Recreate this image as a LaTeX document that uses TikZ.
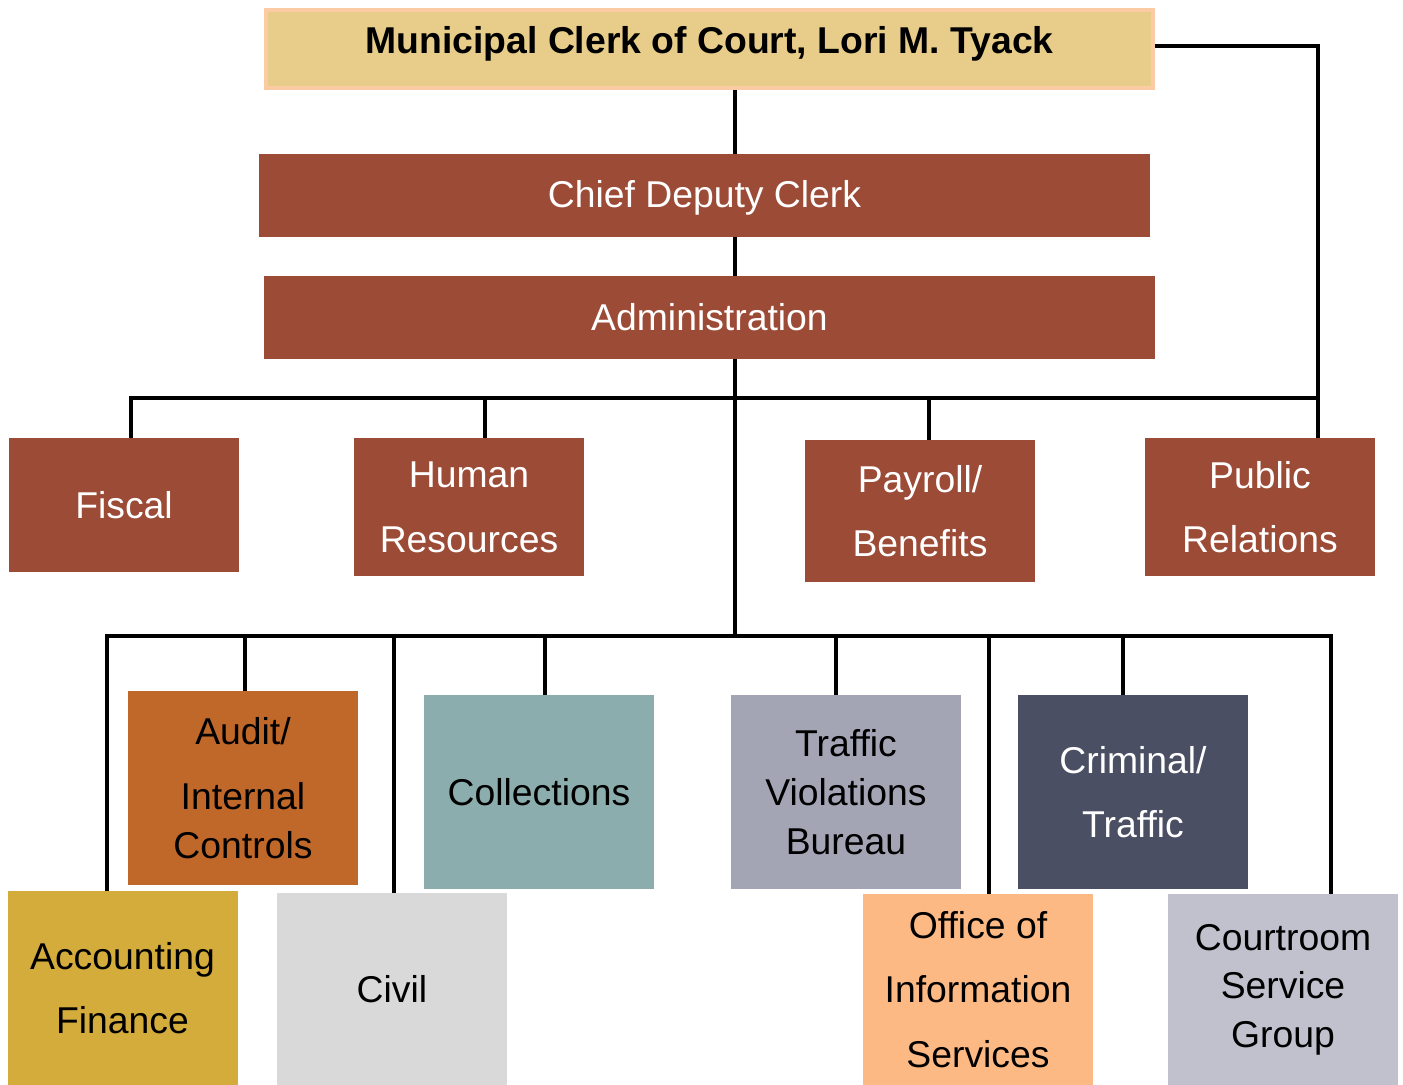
\documentclass[tikz,border=0pt]{standalone}
\usepackage{fontspec}
\setmainfont{Liberation Sans}
\usetikzlibrary{calc}

\definecolor{clerkfill}{HTML}{E7CD89}
\definecolor{clerkline}{HTML}{FBCBA4}
\definecolor{brick}{HTML}{9C4B37}
\definecolor{auditc}{HTML}{C0672A}
\definecolor{collc}{HTML}{8BADAD}
\definecolor{tvbc}{HTML}{A3A5B5}
\definecolor{crimc}{HTML}{4B4F63}
\definecolor{acctc}{HTML}{D4AC3C}
\definecolor{civilc}{HTML}{D9D9D9}
\definecolor{oisc}{HTML}{FDB984}
\definecolor{csgc}{HTML}{C0C1CD}

\tikzset{
  unit/.style={rectangle, inner sep=0pt, minimum width=172.5pt, align=center,
    font=\fontsize{28}{36.5}\selectfont},
  loose/.style={font=\fontsize{28}{48.5}\selectfont},
  wide/.style={rectangle, inner sep=0pt, minimum width=668.25pt, minimum height=62.25pt,
    fill=brick, text=white, font=\fontsize{28}{34}\selectfont},
  link/.style={line width=3pt, black}
}

\begin{document}
\begin{tikzpicture}[x=0.75pt, y=-0.75pt]
\useasboundingbox (0,0) rectangle (1403,1085);

% Top of the chart
\node[rectangle, inner sep=0pt, minimum width=665.25pt, minimum height=58.5pt,
  fill=clerkfill, draw=clerkline, line width=3pt, text depth=13pt,
  font=\fontsize{28}{34}\selectfont\bfseries]
  (clerk) at (709.5,49) {Municipal Clerk of Court, Lori M. Tyack};
\node[wide, text height=24pt] (deputy) at (704.5,195.5) {Chief Deputy Clerk};
\node[wide] (admin) at (709.5,317.5) {Administration};

% Staff units
\node[unit, fill=brick, text=white, minimum height=100.5pt] (fiscal) at (124,505) {Fiscal};
\node[unit, loose, fill=brick, text=white, minimum height=103.5pt] (hr) at (469,507) {Human\\Resources};
\node[unit, loose, fill=brick, text=white, minimum height=106.5pt] (payroll) at (920,511) {Payroll/\\Benefits};
\node[unit, loose, fill=brick, text=white, minimum height=103.5pt] (pr) at (1260,507) {Public\\Relations};

% Divisions
\node[unit, fill=auditc, minimum height=145.5pt] (audit) at (243,788) {Audit/\\[12.25pt]Internal\\Controls};
\node[unit, fill=collc, minimum height=145.5pt] (coll) at (539,792) {Collections};
\node[unit, fill=tvbc, minimum height=145.5pt] (tvb) at (846,792) {Traffic\\Violations\\Bureau};
\node[unit, loose, fill=crimc, text=white, minimum height=145.5pt] (crim) at (1133,792) {Criminal/\\Traffic};
\node[unit, loose, fill=acctc, minimum height=145.5pt] (acct) at (122.5,988) {Accounting\\Finance};
\node[unit, fill=civilc, minimum height=144pt] (civil) at (392,989) {Civil};
\node[unit, loose, fill=oisc, minimum height=143.25pt] (ois) at (978,989.5) {Office of\\Information\\Services};
\node[unit, fill=csgc, minimum height=143.25pt] (csg) at (1283,989.5) {Courtroom\\Service\\Group};

% Buses
\coordinate (upbus) at (735,398);
\coordinate (lowbus) at (735,636);

% Trunk
\draw[link] (clerk.south -| upbus) -- (deputy.north -| upbus);
\draw[link] (deputy.south -| upbus) -- (admin.north -| upbus);
\draw[link] (admin.south -| lowbus) -- (lowbus);
\draw[link] ($(clerk.east)+(0,-3)$) -| ($(pr.north)+(58,0)$);

% Upper bus
\draw[link] ($(fiscal.north)+(7,0)$) |- (upbus) -| ($(pr.north)+(58,0)$);
\draw[link] ($(hr.north)+(16,0)$) -- ++(0,-40);
\draw[link] ($(payroll.north)+(9,0)$) -- ++(0,-42);

% Lower bus
\draw[link] ($(acct.north)+(-15.5,0)$) |- (lowbus) -| ($(csg.north)+(48,0)$);
\draw[link] ($(audit.north)+(2,0)$) -- ++(0,-55);
\draw[link] ($(civil.north)+(2,0)$) -- ++(0,-257);
\draw[link] ($(coll.north)+(6,0)$) -- ++(0,-59);
\draw[link] ($(tvb.north)+(-10,0)$) -- ++(0,-59);
\draw[link] ($(ois.north)+(11,0)$) -- ++(0,-258);
\draw[link] ($(crim.north)+(-10,0)$) -- ++(0,-59);
\end{tikzpicture}
\end{document}
